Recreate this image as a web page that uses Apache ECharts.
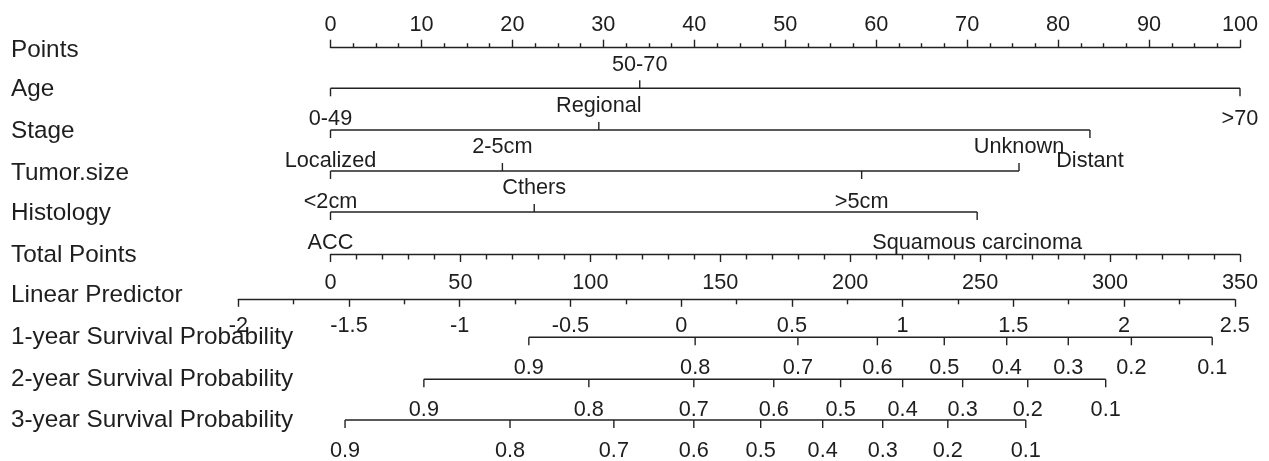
<!DOCTYPE html>
<html><head><meta charset="utf-8">
<script src="https://cdn.jsdelivr.net/npm/echarts@6/dist/echarts.min.js"></script>
<style>html,body{margin:0;padding:0;background:#fff}#c{width:1269px;height:461px}</style>
</head><body><div id="c"></div>
<script>
// ---------------- data ----------------
const rowNames = ['Points','Age','Stage','Tumor.size','Histology','Total Points','Linear Predictor',
  '1-year Survival Probability','2-year Survival Probability','3-year Survival Probability'];

const pointsMin = 0, pointsMax = 100, pointsStep = 10;
const totalMin = 0, totalMax = 350, totalStep = 50;
const lpMin = -2, lpMax = 2.5, lpStep = 0.5;

const ageLevels = ['0-49','50-70','>70'];
const agePoints = [0, 34, 100];
const stageLevels = ['Localized','Regional','Distant'];
const stagePoints = [0, 29.5, 83.5];
const tumorLevels = ['<2cm','2-5cm','>5cm','Unknown'];
const tumorPoints = [0, 18.9, 58.4, 75.7];
const histLevels = ['ACC','Cthers','Squamous carcinoma'];
const histPoints = [0, 22.4, 71.1];

const survLabels = ['0.9','0.8','0.7','0.6','0.5','0.4','0.3','0.2','0.1'];
const surv1yLP = [-0.688, 0.063, 0.527, 0.886, 1.188, 1.470, 1.748, 2.033, 2.398];
const surv2yLP = [-1.162, -0.417, 0.057, 0.418, 0.720, 1.000, 1.271, 1.565, 1.917];
const surv3yLP = [-1.518, -0.773, -0.304, 0.057, 0.359, 0.639, 0.910, 1.204, 1.556];

// ---------------- layout / style ----------------
const W = 1269;
const FONT = '"Liberation Sans", Arial, sans-serif';
const TXT = '#1e1e1e', LINE = '#222', LW = 1.4;
const TICK_FS = 21.7, ROW_FS = 24.3;
const rowY   = [47.7, 88.3, 130, 171, 212, 254.5, 299.3, 337.3, 379.3, 420];
const labelY = [50, 89, 131, 173, 213, 255, 295, 337, 379.5, 420];
const PTS = {left: 330.5, right: W - 1240};
const LP  = {left: 238.3, right: W - 1234.8};
const TICK = 8, ABOVE = 23.5, BELOW = 31;

const grids = [], xAxes = [], yAxes = [], series = [];
function addGrid(i, lr, top) {
  grids.push({left: lr.left, right: lr.right, top: top, height: 1, containLabel: false, outerBoundsMode: 'none'});
  yAxes.push({gridIndex: i, type: 'value', min: 0, max: 1, show: false});
}
function nativeAxis(i, pos, min, max, step, minorSplit, majLen, minLen, margin) {
  xAxes.push({gridIndex: i, type: 'value', position: pos, min: min, max: max, interval: step,
    axisLine: {show: true, onZero: false, lineStyle: {color: LINE, width: LW}},
    axisTick: {show: true, inside: false, length: majLen, lineStyle: {color: LINE, width: LW}},
    minorTick: {show: true, splitNumber: minorSplit, length: minLen, lineStyle: {color: LINE, width: LW}},
    splitLine: {show: false}, minorSplitLine: {show: false},
    axisLabel: {show: true, margin: margin, color: TXT, fontSize: TICK_FS, fontFamily: FONT,
      showMinLabel: true, showMaxLabel: true, hideOverlap: false}
  });
}
function hiddenAxis(i, min, max) {
  xAxes.push({gridIndex: i, type: 'value', min: min, max: max, show: false});
}
function scaleRow(i, labels, values, mode) {
  const lo = Math.min.apply(null, values), hi = Math.max.apply(null, values);
  series.push({
    type: 'custom', xAxisIndex: i, yAxisIndex: i, clip: false, silent: true,
    data: values.map(v => [v, 0.5]),
    renderItem: function (params, api) {
      const k = params.dataIndex;
      const p = api.coord([api.value(0), 0.5]);
      const x = p[0], y = p[1];
      const up = mode === 'alt' ? (k % 2 === 1) : false;
      const ch = [];
      if (k === 0) {
        const a = api.coord([lo, 0.5])[0], b = api.coord([hi, 0.5])[0];
        ch.push({type: 'line', shape: {x1: a, y1: y, x2: b, y2: y}, style: {stroke: LINE, lineWidth: LW}});
      }
      ch.push({type: 'line', shape: {x1: x, y1: y, x2: x, y2: up ? y - TICK : y + TICK},
        style: {stroke: LINE, lineWidth: LW}});
      ch.push({type: 'text', style: {text: labels[k], x: x, y: up ? y - ABOVE : y + BELOW,
        align: 'center', verticalAlign: 'middle', fontSize: TICK_FS, fontFamily: FONT, fill: TXT}});
      return {type: 'group', children: ch};
    }
  });
}

// row 0: Points
addGrid(0, PTS, rowY[0]);
nativeAxis(0, 'top', pointsMin, pointsMax, pointsStep, 4, 8, 4.5, 12);
// rows 1-4: categorical predictors on the points scale
[[ageLevels, agePoints], [stageLevels, stagePoints], [tumorLevels, tumorPoints], [histLevels, histPoints]]
  .forEach((r, j) => {
    const i = j + 1;
    addGrid(i, PTS, rowY[i] - 0.5);
    hiddenAxis(i, pointsMin, pointsMax);
    scaleRow(i, r[0], r[1], 'alt');
  });
// row 5: Total Points
addGrid(5, PTS, rowY[5] - 1);
nativeAxis(5, 'bottom', totalMin, totalMax, totalStep, 5, 7.5, 5, 18);
// row 6: Linear Predictor
addGrid(6, LP, rowY[6] - 1);
nativeAxis(6, 'bottom', lpMin, lpMax, lpStep, 2, 7.5, 5, 16);
// rows 7-9: survival probabilities on the linear predictor scale
[surv1yLP, surv2yLP, surv3yLP].forEach((vals, j) => {
  const i = j + 7;
  addGrid(i, LP, rowY[i] - 0.5);
  hiddenAxis(i, lpMin, lpMax);
  scaleRow(i, survLabels, vals, 'below');
});

const graphic = rowNames.map((n, i) => ({
  type: 'text', x: 11, y: labelY[i], silent: true,
  style: {text: n, fontSize: ROW_FS, fontFamily: FONT, fill: TXT, align: 'left', verticalAlign: 'middle'}
}));

const chart = echarts.init(document.getElementById('c'), null, {renderer: 'canvas'});
chart.setOption({
  animation: false,
  backgroundColor: '#fff',
  grid: grids, xAxis: xAxes, yAxis: yAxes, series: series, graphic: graphic
});
</script></body></html>
